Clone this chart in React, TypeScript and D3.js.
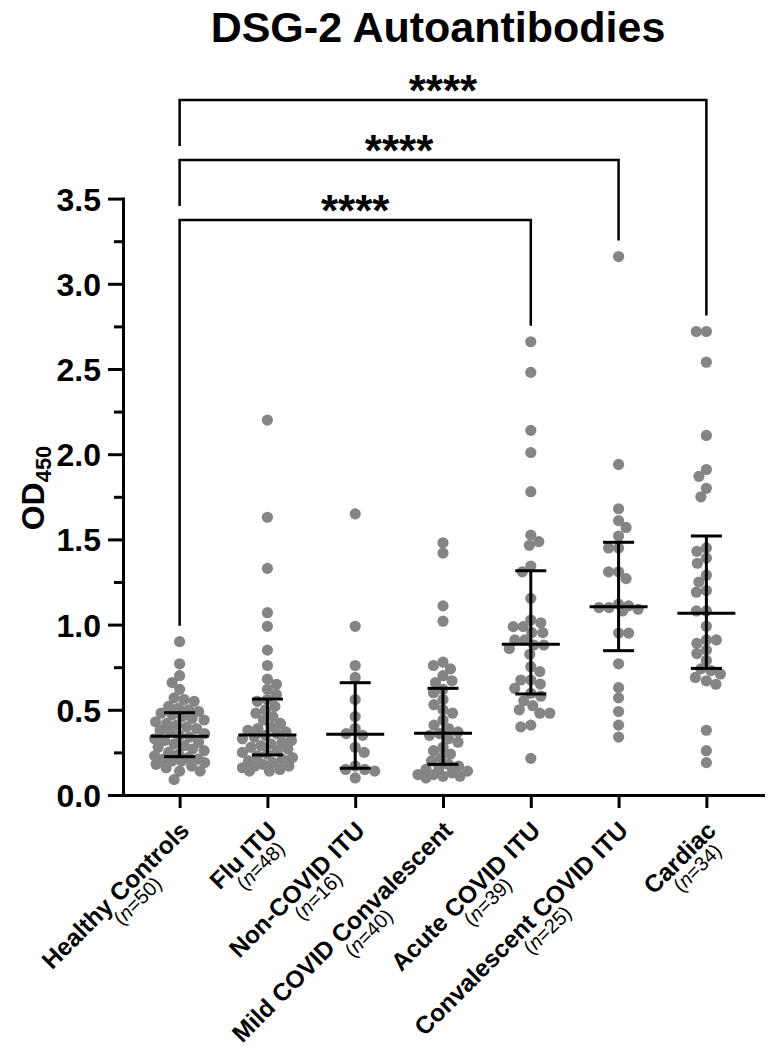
import React, { useEffect, useRef } from "react";
import * as d3 from "d3";

const W = 771;
const H = 1047;

const title = "DSG-2 Autoantibodies";
const categories = [
  "Healthy Controls",
  "Flu ITU",
  "Non-COVID ITU",
  "Mild COVID Convalescent",
  "Acute COVID ITU",
  "Convalescent COVID ITU",
  "Cardiac",
];
const sampleSizes = ["50", "48", "16", "40", "39", "25", "34"];

const healthyControls = [
  0.9, 0.77, 0.7, 0.66, 0.62, 0.57, 0.56, 0.55, 0.52, 0.51, 0.5, 0.49, 0.48,
  0.47, 0.46, 0.45, 0.44, 0.43, 0.42, 0.41, 0.4, 0.39, 0.38, 0.37, 0.36, 0.35,
  0.34, 0.33, 0.32, 0.31, 0.3, 0.29, 0.28, 0.27, 0.26, 0.25, 0.24, 0.23, 0.22,
  0.21, 0.21, 0.2, 0.2, 0.19, 0.18, 0.17, 0.16, 0.14, 0.14, 0.09,
];
const fluITU = [
  2.2, 1.63, 1.33, 1.07, 0.99, 0.85, 0.76, 0.68, 0.65, 0.62, 0.59, 0.56, 0.55,
  0.52, 0.5, 0.48, 0.46, 0.44, 0.42, 0.4, 0.39, 0.38, 0.37, 0.36, 0.35, 0.34,
  0.33, 0.32, 0.31, 0.3, 0.29, 0.28, 0.27, 0.26, 0.25, 0.24, 0.23, 0.22, 0.21,
  0.2, 0.19, 0.18, 0.17, 0.17, 0.16, 0.15, 0.14, 0.14,
];
const nonCovidITU = [
  1.65, 0.99, 0.76, 0.69, 0.56, 0.46, 0.39, 0.36, 0.35, 0.28, 0.25, 0.17, 0.15,
  0.15, 0.14, 0.1,
];
const mildCovidConvalescent = [
  1.48, 1.42, 1.11, 1.02, 0.78, 0.76, 0.74, 0.7, 0.67, 0.66, 0.62, 0.6, 0.56,
  0.53, 0.5, 0.48, 0.44, 0.41, 0.39, 0.37, 0.36, 0.35, 0.33, 0.31, 0.28, 0.26,
  0.24, 0.22, 0.2, 0.18, 0.17, 0.16, 0.15, 0.14, 0.13, 0.12, 0.12, 0.11, 0.11,
  0.1,
];
const acuteCovidITU = [
  2.66, 2.48, 2.14, 2.01, 1.78, 1.525, 1.487, 1.465, 1.344, 1.31, 1.154, 1.027,
  1.011, 0.988, 0.988, 0.953, 0.953, 0.91, 0.91, 0.88, 0.88, 0.86, 0.826,
  0.753, 0.724, 0.675, 0.675, 0.651, 0.626, 0.597, 0.58, 0.553, 0.524, 0.5,
  0.48, 0.48, 0.41, 0.4, 0.215,
];
const convalescentCovidITU = [
  3.16, 1.94, 1.68, 1.61, 1.57, 1.52, 1.45, 1.45, 1.31, 1.31, 1.27, 1.12, 1.11,
  1.1, 1.1, 1.09, 1.08, 0.95, 0.95, 0.77, 0.63, 0.57, 0.49, 0.41, 0.34,
];
const cardiac = [
  2.72, 2.72, 2.54, 2.11, 1.91, 1.87, 1.8, 1.75, 1.45, 1.43, 1.39, 1.36, 1.29,
  1.25, 1.2, 1.19, 1.08, 1.08, 0.99, 0.91, 0.91, 0.89, 0.85, 0.83, 0.79, 0.74,
  0.73, 0.71, 0.69, 0.67, 0.65, 0.38, 0.26, 0.19,
];

const medians = [0.345, 0.352, 0.356, 0.362, 0.884, 1.105, 1.066];
const lowerQuartiles = [0.225, 0.235, 0.157, 0.18, 0.593, 0.847, 0.743];
const upperQuartiles = [0.483, 0.563, 0.659, 0.626, 1.316, 1.483, 1.52];

const yTickValues = [0, 0.5, 1, 1.5, 2, 2.5, 3, 3.5];
const yMinorTickValues = [0.25, 0.75, 1.25, 1.75, 2.25, 2.75, 3.25];

const comparisonFrom = [0, 0, 0];
const comparisonTo = [4, 5, 6];
const comparisonLabels = ["****", "****", "****"];

const groups = [
  healthyControls,
  fluITU,
  nonCovidITU,
  mildCovidConvalescent,
  acuteCovidITU,
  convalescentCovidITU,
  cardiac,
];

const FONT = "'Liberation Sans', Arial, Helvetica, sans-serif";
const DOT = "#858585";

function dodge(vals: number[], yScale: (v: number) => number, minD: number, maxW: number) {
  const pts = vals.map((v) => ({ v, y: yScale(v), dx: 0 }));
  const order = d3.range(pts.length).sort((i, j) => pts[j].v - pts[i].v);
  const placed: { x: number; y: number }[] = [];
  order.forEach((i, k) => {
    const p = pts[i];
    let best: number | null = null;
    let fallback = 0;
    let bestScore = -Infinity;
    const side = k % 2 === 0 ? 1 : -1;
    for (let m = 0; m <= maxW; m += 0.5) {
      const sides = m === 0 ? [1] : [side, -side];
      for (const s of sides) {
        const cx = s * m;
        let md = Infinity;
        for (const q of placed) {
          const dd = Math.hypot(q.x - cx, q.y - p.y);
          if (dd < md) md = dd;
        }
        if (md >= minD) {
          best = cx;
          break;
        }
        if (md > bestScore) {
          bestScore = md;
          fallback = cx;
        }
      }
      if (best !== null) break;
    }
    p.dx = best !== null ? best : fallback;
    placed.push({ x: p.dx, y: p.y });
  });
  return pts;
}

export default function App() {
  const ref = useRef<SVGSVGElement | null>(null);

  useEffect(() => {
    const svg = d3.select(ref.current);
    svg.selectAll("*").remove();

    const x = d3.scalePoint<string>().domain(categories).range([123, 763]).padding(0.645);
    const y = d3.scaleLinear().domain([0, 3.5]).range([795, 198.6]);

    // Title
    svg
      .append("text")
      .attr("x", 438)
      .attr("y", 42)
      .attr("text-anchor", "middle")
      .attr("font-family", FONT)
      .attr("font-weight", "bold")
      .attr("font-size", 43)
      .text(title);

    // Y axis label
    const yl = svg
      .append("text")
      .attr("transform", "translate(44,488) rotate(-90)")
      .attr("text-anchor", "middle")
      .attr("font-family", FONT)
      .attr("font-weight", "bold")
      .attr("font-size", 32);
    yl.append("tspan").text("OD");
    yl.append("tspan").attr("font-size", 22).attr("dy", 7).text("450");

    // Dots
    groups.forEach((vals, gi) => {
      const cx = x(categories[gi]) as number;
      const pts = dodge(vals, y, 10, 25);
      svg
        .append("g")
        .selectAll("circle")
        .data(pts)
        .join("circle")
        .attr("cx", (d) => cx + d.dx)
        .attr("cy", (d) => d.y)
        .attr("r", 5.6)
        .attr("fill", DOT);
    });

    // Error bars (median with interquartile range)
    const eb = svg.append("g").attr("stroke", "#000").attr("stroke-width", 3);
    categories.forEach((c, gi) => {
      const cx = x(c) as number;
      eb.append("line")
        .attr("x1", cx)
        .attr("x2", cx)
        .attr("y1", y(lowerQuartiles[gi]))
        .attr("y2", y(upperQuartiles[gi]));
      eb.append("line")
        .attr("x1", cx - 29)
        .attr("x2", cx + 29)
        .attr("y1", y(medians[gi]))
        .attr("y2", y(medians[gi]));
      [lowerQuartiles[gi], upperQuartiles[gi]].forEach((q) => {
        eb.append("line")
          .attr("x1", cx - 15.5)
          .attr("x2", cx + 15.5)
          .attr("y1", y(q))
          .attr("y2", y(q));
      });
    });

    // Axes
    const yAxis = d3
      .axisLeft(y)
      .tickValues(yTickValues)
      .tickSize(15)
      .tickSizeOuter(0)
      .tickPadding(7)
      .tickFormat((d) => d3.format(".1f")(d as number));
    const gy = svg.append("g").attr("transform", "translate(123,0)").call(yAxis);
    gy.selectAll("path,line").attr("stroke", "#000").attr("stroke-width", 3);
    gy.select(".domain").attr("stroke-linecap", "square");
    gy.selectAll("text")
      .attr("font-family", FONT)
      .attr("font-weight", "bold")
      .attr("font-size", 32)
      .attr("fill", "#000")
      .attr("dy", "0.36em");

    const yMinor = d3.axisLeft(y).tickValues(yMinorTickValues).tickSize(9).tickFormat(() => "");
    const gym = svg.append("g").attr("transform", "translate(123,0)").call(yMinor);
    gym.select(".domain").remove();
    gym.selectAll("line").attr("stroke", "#000").attr("stroke-width", 3);

    const xAxis = d3.axisBottom(x).tickSize(13).tickSizeOuter(0).tickFormat(() => "");
    const gx = svg.append("g").attr("transform", "translate(0,795)").call(xAxis);
    gx.selectAll("path,line").attr("stroke", "#000").attr("stroke-width", 3);
    gx.select(".domain").attr("stroke-linecap", "square");

    // X labels
    categories.forEach((c, gi) => {
      const cx = x(c) as number;
      const g = svg.append("g").attr("transform", `translate(${cx + 11},832) rotate(-45)`);
      const t1 = g
        .append("text")
        .attr("text-anchor", "end")
        .attr("font-family", FONT)
        .attr("font-weight", "bold")
        .attr("font-size", 24.5)
        .text(c);
      const w1 = (t1.node() as SVGTextElement).getComputedTextLength();
      const t2 = g
        .append("text")
        .attr("x", -0.44 * w1)
        .attr("y", 18)
        .attr("text-anchor", "middle")
        .attr("font-family", FONT)
        .attr("font-size", 20);
      t2.append("tspan").text("(");
      t2.append("tspan").attr("font-style", "italic").text("n");
      t2.append("tspan").text("=" + sampleSizes[gi] + ")");
    });

    // Significance brackets
    const lineYs = [220, 160, 100];
    const br = svg.append("g");
    comparisonFrom.forEach((a, i) => {
      const b = comparisonTo[i];
      const xa = x(categories[a]) as number;
      const xb = x(categories[b]) as number;
      const ly = lineYs[i];
      const leftEnd = i === 0 ? y(d3.max(groups[a]) as number) - 16 : lineYs[i - 1] - 14;
      const rightEnd = y(d3.max(groups[b]) as number) - 16;
      br.append("path")
        .attr("d", `M${xa},${leftEnd}V${ly}H${xb}V${rightEnd}`)
        .attr("fill", "none")
        .attr("stroke", "#000")
        .attr("stroke-width", 2.5);
      br.append("text")
        .attr("x", (xa + xb) / 2)
        .attr("y", ly + 6)
        .attr("text-anchor", "middle")
        .attr("font-family", FONT)
        .attr("font-weight", "bold")
        .attr("font-size", 44)
        .text(comparisonLabels[i]);
    });
  }, []);

  return (
    <svg
      ref={ref}
      width={W}
      height={H}
      style={{ position: "absolute", left: 0, top: 0, background: "#fff" }}
    />
  );
}
